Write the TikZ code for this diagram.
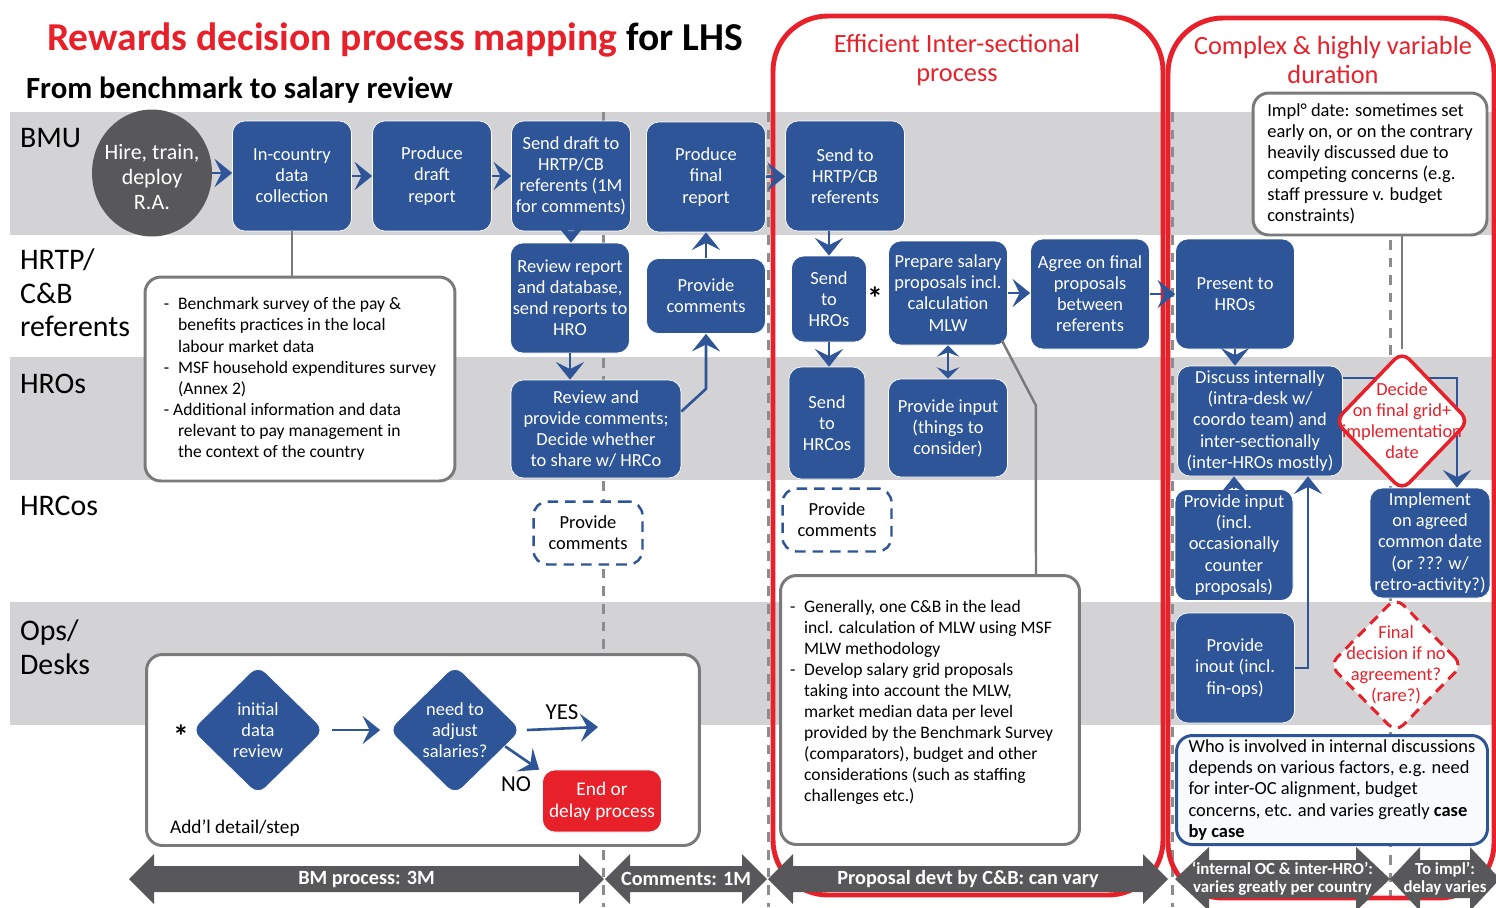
\documentclass[tikz,border=0pt]{standalone}
\usepackage{fontspec}
\setmainfont{Carlito}
\usetikzlibrary{shapes.geometric,arrows.meta,calc}

\definecolor{blu}{HTML}{2E5597}
\definecolor{redc}{HTML}{E8202A}
\definecolor{band}{HTML}{D3D2D4}
\definecolor{dgray}{HTML}{58585A}
\definecolor{ngray}{HTML}{7A7A7A}
\definecolor{lgray}{HTML}{8C8C8C}

\newcommand{\boxfont}{\fontsize{10.5}{12}\selectfont}
\newcommand{\notefont}{\fontsize{10}{12}\selectfont}
\newcommand{\ind}{\phantom{-}\enspace}

% duration arrow: name, left x, right x, text, extra style, head length, body half, head half
\newcommand{\durarrow}[8]{%
  \fill[dgray] (#2,879) -- ({#2+#6},{879-#8}) -- ({#2+#6},{879-#7}) -- ({#3-#6},{879-#7})
    -- ({#3-#6},{879-#8}) -- (#3,879) -- ({#3-#6},{879+#8}) -- ({#3-#6},{879+#7})
    -- ({#2+#6},{879+#7}) -- ({#2+#6},{879+#8}) -- cycle;
  \node[durtext,#5] (#1) at ({(#2+#3)/2},879) {#4};}

\begin{document}
\begin{tikzpicture}[x=0.02cm, y=-0.02cm,
  every node/.style={inner sep=1pt},
  proc/.style={rectangle, rounded corners=7pt, fill=blu, draw=white,
    text=white, align=center, font=\boxfont},
  std/.style={minimum width=2.38cm, minimum height=2.2cm},
  dcom/.style={rectangle, rounded corners=8pt, draw=blu, line width=1.4pt,
    dash pattern=on 6pt off 4pt, fill=white, align=center, font=\boxfont,
    minimum width=2.18cm, minimum height=1.26cm},
  dia/.style={diamond, rounded corners=6pt, fill=blu, draw=white,
    minimum width=2.66cm, minimum height=2.6cm, inner sep=0pt},
  wlab/.style={text=white, align=center, font=\boxfont},
  rlab/.style={text=redc, align=center, font=\boxfont},
  note/.style={rectangle, rounded corners=9pt, draw=ngray, line width=1.7pt,
    fill=white, align=left, font=\notefont},
  lane/.style={anchor=north west, align=left, font=\fontsize{17}{19}\selectfont},
  hdr/.style={text=redc, align=center, font=\fontsize{15}{17}\selectfont},
  durtext/.style={text=white, align=center, font=\bfseries\fontsize{11.5}{13}\selectfont},
  vdash/.style={lgray, line width=1.7pt, dash pattern=on 5.5pt off 4.5pt},
  frame/.style={redc, line width=2.8pt, rounded corners=1.1cm},
  arr/.style={draw=blu, line width=1.5pt, -{Stealth[length=10pt,width=16pt,inset=4pt]}},
  dblarr/.style={draw=blu, line width=1.5pt,
    {Stealth[length=6.5pt,width=13pt,inset=2.5pt]}-{Stealth[length=6.5pt,width=13pt,inset=2.5pt]}},
  conn/.style={draw=ngray, line width=1.4pt},
  star/.style={font=\bfseries\fontsize{18}{18}\selectfont}]
\useasboundingbox (0,0) rectangle (1496,907);

% swimlanes
\fill[band] (10,112) rectangle (1496,235);
\fill[band] (10,357) rectangle (1496,480);
\fill[band] (10,602) rectangle (1496,725);
\draw[vdash] (603,112) -- (603,907);
\draw[vdash] (768,112) -- (768,907);
\draw[vdash] (1172,112) -- (1172,907);
\draw[vdash] (1390,240) -- (1390,907);
\draw[frame] (773,16) rectangle (1163,895);
\draw[frame] (1168,18) rectangle (1494,898);

% titles
\node[anchor=base west, font=\bfseries\fontsize{22.5}{26}\selectfont] (title) at (45,50)
  {\textcolor{redc}{Rewards decision process mapping} for LHS};
\node[anchor=base west, font=\bfseries\fontsize{17.5}{20}\selectfont] (subtitle) at (24,98)
  {From benchmark to salary review};
\node[hdr] (effhdr) at (957,60) {Efficient Inter-sectional\\process};
\node[hdr] (cplxhdr) at (1333,60) {Complex \& highly variable\\duration};

\node[lane] (lbmu) at (18,126) {BMU};
\node[lane] (lhrtp) at (18,247) {HRTP/\\C\&B\\referents};
\node[lane] (lhro) at (18,372) {HROs};
\node[lane] (lhrco) at (18,494) {HRCos};
\node[lane] (lops) at (18,618) {Ops/\\Desks};

% BMU
\node[ellipse, fill=dgray, minimum width=2.4cm, minimum height=2.54cm,
  label={[text=white, align=center, yshift=-0.08cm, font=\fontsize{12.5}{14}\selectfont]center:Hire, train,\\deploy\\R.A.}]
  (hire) at (152,173) {};
\node[proc, std] (collect) at (292,176) {In-country\\data\\collection};
\node[proc, std] (draft) at (432,176) {Produce\\draft\\report};
\node[proc, std] (senddraft) at (571,176) {Send draft to\\HRTP/CB\\referents (1M\\for comments)};
\node[proc, std] (final) at (706,177) {Produce\\final\\report};
\node[proc, std] (sendref) at (845,176) {Send to\\HRTP/CB\\referents};

% HRTP / C&B referents
\node[proc, std] (review) at (570,298) {Review report\\and database,\\send reports to\\HRO};
\node[proc, minimum width=2.38cm, minimum height=1.5cm] (provcom) at (706,296) {Provide\\comments};
\node[proc, minimum width=1.5cm, minimum height=1.72cm] (sendhro) at (829,299) {Send\\to\\HROs};
\node[star] (star2) at (875,298) {*};
\node[proc, minimum width=2.38cm, minimum height=2.08cm] (prepare) at (948,293)
  {Prepare salary\\proposals incl.\\calculation\\MLW};
\node[proc, std] (agree) at (1090,294) {Agree on final\\proposals\\between\\referents};
\node[proc, std] (present) at (1235,294) {Present to\\HROs};

% HROs
\node[proc, minimum width=3.4cm, minimum height=1.96cm] (reviewprov) at (596,429)
  {Review and\\provide comments;\\Decide whether\\to share w/ HRCo};
\node[proc, minimum width=1.52cm, minimum height=2.24cm] (sendhrco) at (827,423) {Send\\to\\HRCos};
\node[proc, minimum width=2.38cm, minimum height=1.96cm] (input) at (948,428)
  {Provide input\\(things to\\consider)};
\node[proc, minimum width=3.3cm, minimum height=2.2cm] (discuss) at (1260,421)
  {Discuss internally\\(intra-desk w/\\coordo team) and\\inter-sectionally\\(inter-HROs mostly)};

% HRCos
\node[dcom] (hrcocom1) at (588,533) {Provide\\comments};
\node[dcom] (hrcocom2) at (837,520) {Provide\\comments};
\node[proc, minimum width=2.36cm, minimum height=2.22cm] (counter) at (1234,545)
  {Provide input\\(incl.\\occasionally\\counter\\proposals)};
\node[proc, minimum width=2.4cm, minimum height=2.2cm] (implement) at (1430,543)
  {Implement\\on agreed\\common date\\(or ??? w/\\retro-activity?)};

% Ops / Desks
\node[proc, std] (inout) at (1235,668) {Provide\\inout (incl.\\fin-ops)};

% notes
\node[note, minimum width=6.2cm, minimum height=4.08cm] (bmnote) at (300,379)
  {-\enspace Benchmark survey of the pay \&\\
   \ind benefits practices in the local\\
   \ind labour market data\\
   -\enspace MSF household expenditures survey\\
   \ind (Annex 2)\\
   - Additional information and data\\
   \ind relevant to pay management in\\
   \ind the context of the country};
\node[note, inner sep=0pt, minimum width=5.98cm, minimum height=5.38cm] (cbnote) at (930,710)
  {\parbox[t][4.4cm][t]{5.6cm}{\raggedright
   -\enspace Generally, one C\&B in the lead\\
   \ind incl. calculation of MLW using MSF\\
   \ind MLW methodology\\
   -\enspace Develop salary grid proposals\\
   \ind taking into account the MLW,\\
   \ind market median data per level\\
   \ind provided by the Benchmark Survey\\
   \ind (comparators), budget and other\\
   \ind considerations (such as staffing\\
   \ind challenges etc.)}};
\node[note, font=\boxfont, minimum width=4.68cm, minimum height=2.84cm] (implnote) at (1370,164)
  {Impl° date: sometimes set\\early on, or on the contrary\\heavily discussed due to\\competing concerns (e.g.\\staff pressure v. budget\\constraints)};
\node[note, draw=blu, fill=blu!3, font=\boxfont, minimum width=6.22cm, minimum height=2.18cm] (whonote) at (1332,790)
  {Who is involved in internal discussions\\depends on various factors, e.g. need\\for inter-OC alignment, budget\\concerns, etc. and varies greatly \textbf{case}\\\textbf{by case}};

% additional detail box
\node[note, minimum width=11.06cm, minimum height=3.82cm] (addlbox) at (423,750) {};
\node[anchor=west, font=\fontsize{11}{13}\selectfont] (addltext) at (168,828) {Add’l detail/step};
\node[star] (star1) at (181,736) {*};
\node[dia, label={[wlab]center:initial\\data\\review}] (initial) at (258,730) {};
\node[dia, label={[wlab]center:need to\\adjust\\salaries?}] (need) at (455,730) {};
\node[proc, fill=redc, minimum width=2.38cm, minimum height=1.24cm,
  font=\fontsize{11}{12.5}\selectfont] (endbox) at (602,801) {End or\\delay process};
\node[font=\fontsize{13}{13}\selectfont] (yes) at (562,712) {YES};
\node[font=\fontsize{13}{13}\selectfont] (no) at (516,784) {NO};
\coordinate (yesend) at (598,727);

% connectors
\draw[arr] (hire) -- (hire -| collect.west);
\draw[arr] (collect) -- (draft);
\draw[arr] (draft) -- (senddraft);
\draw[arr] (senddraft.south) -- (senddraft.south |- review.north);
\draw[arr] (review.south) -- (review.south |- reviewprov.north);
\draw[arr] ([yshift=0.35cm]reviewprov.east) -- ([yshift=-1.1cm]provcom.south) -- (provcom.south);
\draw[arr] (provcom) -- (final);
\draw[arr] (final) -- (sendref);
\draw[arr] (sendhro.north |- sendref.south) -- (sendhro.north);
\draw[arr] (sendhro.south) -- (sendhro.south |- sendhrco.north);
\draw[arr] (prepare.east) -- (prepare.east -| agree.west);
\draw[dblarr] (prepare) -- (input);
\draw[arr] (agree) -- (present);
\draw[arr] (present.south) -- (present.south |- discuss.north);
\draw[arr] (counter.north) -- (counter.north |- discuss.south);
\draw[arr] (inout.east) -| ([xshift=0.96cm]discuss.south);
\draw[arr] ([yshift=0.86cm]discuss.east) -| ([xshift=0.54cm]implement.north);
\draw[conn] (collect.south) -- (collect.south |- bmnote.north);
\draw[conn] ([xshift=-0.12cm,yshift=0.1cm]prepare.south east) -- ++(34,65) -- ([xshift=2.12cm]cbnote.north);
\draw[arr] ([xshift=0.14cm]initial.east) -- ([xshift=-0.16cm]need.west);
\draw[arr] ([xshift=0.1cm]need.east) -- (yesend);
\draw[arr] ($(need.east)!0.25!(need.south)$) -- ([xshift=-0.06cm]endbox.north west);

% decision diamonds
\node[diamond, rounded corners=6pt, fill=white, draw=redc, line width=2pt,
  minimum width=2.7cm, minimum height=2.8cm, inner sep=0pt,
  label={[rlab]center:Decide\\on final grid+\\implementation\\date}] (decide) at (1402,421) {};
\node[diamond, rounded corners=6pt, fill=white, draw=redc, line width=1.7pt,
  dash pattern=on 6pt off 4pt, minimum width=2.68cm, minimum height=2.72cm, inner sep=0pt,
  label={[rlab]center:Final\\decision  if no\\agreement?\\(rare?)}] (finaldec) at (1396,665) {};
\draw[conn] (decide.north |- implnote.south) -- (decide.north);

% durations
\durarrow{bmdur}{129}{604}{BM process: 3M}{}{25}{13}{25}
\durarrow{comdur}{605}{767}{Comments: 1M}{}{25}{13}{25}
\durarrow{propdur}{768}{1168}{Proposal devt by C\&B: can vary}{}{25}{13}{25}
\durarrow{intdur}{1175}{1390}{‘internal OC \& inter-HRO’:\\varies greatly per country}{font=\bfseries\fontsize{9.6}{10.4}\selectfont}{34}{19}{32}
\durarrow{impldur}{1390}{1500}{To impl’:\\delay varies}{font=\bfseries\fontsize{9.6}{10.4}\selectfont}{30}{19}{32}
\end{tikzpicture}
\end{document}
